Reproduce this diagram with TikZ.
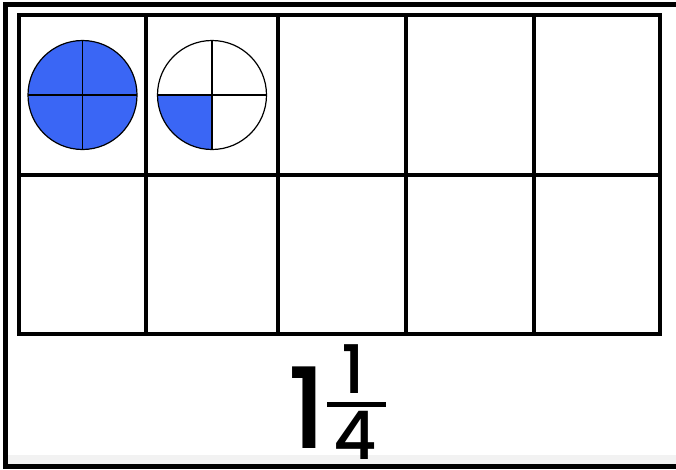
\documentclass[tikz,border=0pt]{standalone}
\usepackage{fontspec}
\setmainfont{Poppins}[BoldFont={Poppins Medium}]
\usepackage{tikz}
\usetikzlibrary{positioning,calc}
\definecolor{fracblue}{RGB}{58,102,245}
\tikzset{frame/.style={line width=5pt,line cap=rect},
  gridline/.style={line width=4pt,line cap=rect},
  piece/.style={line width=1.2pt},
  digit/.style={inner sep=0pt,anchor=base,font=\fontsize{#1}{#1}\selectfont\bfseries}}

\begin{document}
\begin{tikzpicture}[x=1pt,y=-1pt]
\useasboundingbox (0,0) rectangle (676,469);
\fill[gray!10] (5,455) rectangle (676,464);
\draw[frame] (676,4.5) -- (5,4.5) -- (5,466.5) -- (676,466.5);
\draw[gridline] (19,15) rectangle (660,334);
\draw[gridline] (19,175) -- (660,175);
\foreach \x in {146,278,406,534}
  \draw[gridline] (\x,15) -- (\x,334);
\coordinate (wholec) at (82.5,95);
\coordinate (quarterc) at (212,95);
\fill[fracblue] (wholec) circle[radius=54.5];
\begin{scope}
  \clip (quarterc) circle[radius=54.5];
  \fill[fracblue] (quarterc) rectangle ++(-60,60);
\end{scope}
\foreach \c in {wholec,quarterc} {
  \draw[piece] (\c) circle[radius=54.5];
  \draw[piece] ($(\c)+(-54.5,0)$) -- ($(\c)+(54.5,0)$);
  \draw[piece] ($(\c)+(0,-54.5)$) -- ($(\c)+(0,54.5)$);
}
\node[digit=112] (whole) at (307,448) {1};
\node[digit=67] (num) at (353.5,393) {1};
\node[digit=67] (den) at (355,459) {4};
\draw[line width=5pt] (327,404.5) -- (386,404.5);
\end{tikzpicture}
\end{document}
